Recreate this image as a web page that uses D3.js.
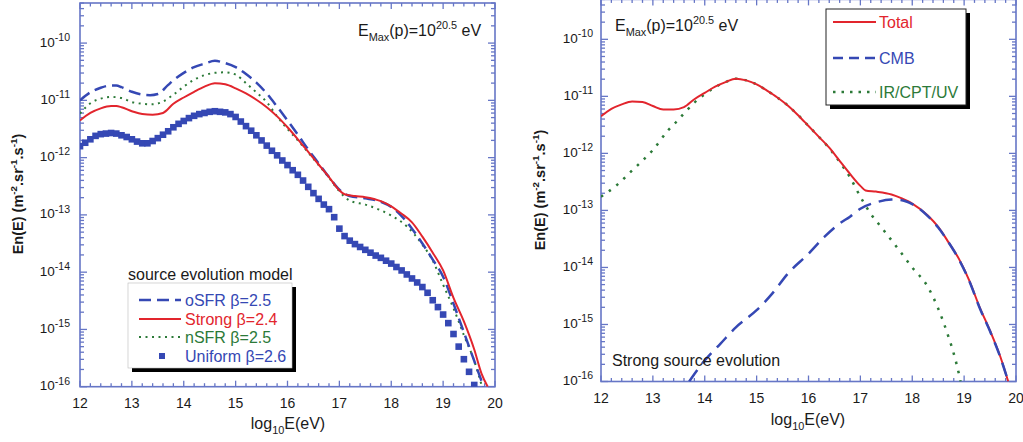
<!DOCTYPE html>
<html><head><meta charset="utf-8">
<script src="https://cdn.jsdelivr.net/npm/d3@7"></script>
<style>body{margin:0;background:#fff;} svg{display:block;font-family:"Liberation Sans",Arial,Helvetica,sans-serif;}</style>
</head><body><svg id="c" width="1023" height="442"></svg>
<script>
// ---------- tick labels ----------
const xTicks = [12, 13, 14, 15, 16, 17, 18, 19, 20];
const yDecades = [-16, -15, -14, -13, -12, -11, -10];

// ---------- LEFT PANEL : source evolution models (log10 E, log10 flux) ----------
const oSFR_E = [12.0,12.2,12.4,12.6,12.7,12.8,13.0,13.2,13.35,13.5,13.7,13.8,14.0,14.2,14.4,14.6,14.8,15.0,15.2,15.4,15.6,15.8,16.0,16.2,16.4,16.6,16.8,17.0,17.2,17.5,17.8,18.0,18.2,18.4,18.6,18.8,19.0,19.2,19.4,19.6,19.78];
const oSFR_F = [-11.00,-10.86,-10.78,-10.74,-10.74,-10.77,-10.85,-10.90,-10.91,-10.89,-10.73,-10.65,-10.52,-10.42,-10.36,-10.31,-10.35,-10.42,-10.54,-10.69,-10.88,-11.11,-11.35,-11.60,-11.86,-12.10,-12.34,-12.56,-12.67,-12.71,-12.77,-12.86,-13.02,-13.24,-13.50,-13.78,-14.08,-14.55,-15.05,-15.55,-16.0];

const strong_E = [12.0,12.2,12.4,12.6,12.7,12.8,13.0,13.2,13.4,13.6,13.8,14.0,14.2,14.4,14.6,14.8,15.0,15.2,15.4,15.6,15.8,16.0,16.2,16.4,16.6,16.8,17.0,17.1,17.3,17.5,17.8,18.0,18.2,18.4,18.6,18.8,19.0,19.2,19.4,19.6,19.74,19.86];
const strong_F = [-11.35,-11.22,-11.14,-11.10,-11.10,-11.12,-11.19,-11.24,-11.25,-11.22,-11.06,-10.95,-10.85,-10.76,-10.70,-10.72,-10.79,-10.88,-10.99,-11.12,-11.28,-11.47,-11.68,-11.90,-12.12,-12.34,-12.57,-12.64,-12.67,-12.69,-12.76,-12.85,-12.98,-13.13,-13.38,-13.66,-13.97,-14.45,-14.86,-15.35,-15.77,-16.0];

const nSFR_E = [12.0,12.2,12.4,12.6,12.8,13.0,13.2,13.4,13.6,13.8,14.0,14.2,14.4,14.6,14.8,15.0,15.2,15.4,15.6,15.8,16.0,16.2,16.4,16.6,16.8,17.0,17.2,17.5,17.8,18.0,18.3,18.6,18.8,19.0,19.2,19.4,19.6,19.75];
const nSFR_F = [-11.23,-11.05,-10.97,-10.94,-10.96,-11.03,-11.06,-11.07,-11.02,-10.90,-10.76,-10.64,-10.56,-10.52,-10.51,-10.55,-10.70,-10.86,-11.03,-11.28,-11.50,-11.70,-11.91,-12.13,-12.35,-12.59,-12.75,-12.82,-12.92,-13.01,-13.20,-13.52,-13.80,-14.22,-14.63,-15.10,-15.55,-16.0];

const uniform_E = [12.0,12.1,12.2,12.3,12.4,12.5,12.6,12.7,12.8,12.9,13.0,13.1,13.2,13.3,13.4,13.5,13.6,13.7,13.8,13.9,14.0,14.1,14.2,14.3,14.4,14.5,14.6,14.7,14.8,14.9,15.0,15.1,15.2,15.3,15.4,15.5,15.6,15.7,15.8,15.9,16.0,16.1,16.2,16.3,16.4,16.5,16.6,16.7,16.8,16.9,17.0,17.1,17.2,17.3,17.4,17.5,17.6,17.7,17.8,17.9,18.0,18.1,18.2,18.3,18.4,18.5,18.6,18.7,18.8,18.9,19.0,19.1,19.2,19.3,19.4,19.5,19.6];
const uniform_F = [-11.80,-11.74,-11.68,-11.62,-11.59,-11.58,-11.57,-11.58,-11.61,-11.64,-11.68,-11.72,-11.75,-11.75,-11.71,-11.66,-11.60,-11.54,-11.47,-11.41,-11.36,-11.31,-11.27,-11.24,-11.22,-11.20,-11.19,-11.20,-11.21,-11.24,-11.29,-11.37,-11.45,-11.53,-11.61,-11.70,-11.79,-11.88,-11.96,-12.05,-12.13,-12.22,-12.30,-12.40,-12.51,-12.62,-12.72,-12.82,-12.90,-13.04,-13.24,-13.37,-13.45,-13.51,-13.56,-13.61,-13.66,-13.71,-13.75,-13.80,-13.85,-13.91,-13.97,-14.04,-14.11,-14.18,-14.26,-14.36,-14.49,-14.61,-14.74,-14.89,-15.08,-15.30,-15.52,-15.74,-15.97];

// ---------- RIGHT PANEL : strong source evolution components ----------
const total_E = [12.0,12.2,12.4,12.6,12.8,13.0,13.2,13.4,13.6,13.8,14.0,14.2,14.4,14.6,14.8,15.0,15.2,15.4,15.6,15.8,16.0,16.2,16.4,16.6,16.8,17.0,17.1,17.3,17.6,17.8,18.0,18.3,18.5,18.7,18.9,19.1,19.3,19.5,19.7,19.85];
const total_F = [-11.35,-11.22,-11.14,-11.09,-11.10,-11.17,-11.23,-11.23,-11.19,-11.05,-10.94,-10.83,-10.75,-10.69,-10.72,-10.79,-10.90,-11.02,-11.16,-11.33,-11.52,-11.71,-11.90,-12.13,-12.36,-12.57,-12.65,-12.67,-12.72,-12.79,-12.88,-13.09,-13.29,-13.56,-13.85,-14.23,-14.70,-15.11,-15.57,-16.0];

const cmb_E = [13.7,14.0,14.3,14.6,15.0,15.3,15.6,16.0,16.3,16.6,16.8,17.0,17.3,17.6,17.8,18.0,18.3,18.5,18.7,18.9,19.1,19.3,19.5,19.7,19.85];
const cmb_F = [-16.0,-15.63,-15.34,-15.05,-14.75,-14.46,-14.11,-13.76,-13.47,-13.23,-13.11,-12.97,-12.86,-12.81,-12.82,-12.89,-13.10,-13.30,-13.56,-13.86,-14.24,-14.71,-15.12,-15.58,-16.0];

const ir_E = [12.0,12.3,12.6,13.0,13.3,13.45,13.6,13.8,14.0,14.2,14.4,14.6,14.8,15.0,15.2,15.4,15.6,15.8,16.0,16.2,16.4,16.6,16.8,17.0,17.2,17.4,17.7,18.0,18.3,18.5,18.7,18.8,18.9,18.93];
const ir_F = [-12.76,-12.56,-12.30,-11.94,-11.59,-11.45,-11.30,-11.11,-10.96,-10.84,-10.75,-10.69,-10.72,-10.79,-10.90,-11.02,-11.16,-11.33,-11.52,-11.71,-11.91,-12.15,-12.42,-12.76,-13.06,-13.29,-13.64,-14.00,-14.34,-14.72,-15.22,-15.51,-15.87,-16.0];

// ---------- styles ----------
const BLUE = "#3548b4", RED = "#e2252d", GREEN = "#2c7a38", FRAME = "#6676c6", TXT = "#1a1a1a";

const svg = d3.select("#c");
svg.append("rect").attr("width",1023).attr("height",442).attr("fill","#fff");

function richText(g, x, y, parts, size, opts = {}) {
  const t = g.append("text").attr("x", x).attr("y", y).attr("font-size", size)
    .attr("fill", opts.fill || TXT).attr("text-anchor", opts.anchor || "start");
  if (opts.weight) t.attr("font-weight", opts.weight);
  if (opts.transform) t.attr("transform", opts.transform);
  const ratio = opts.ratio || 0.68;
  let cur = 0;
  parts.forEach(([s, type]) => {
    const off = type === "sup" ? -size * 0.42 : type === "sub" ? size * 0.32 : 0;
    t.append("tspan").attr("dy", off - cur).attr("font-size", type === "n" ? size : size * ratio).text(s);
    cur = off;
  });
  return t;
}

function toPts(E, F) { return E.map((e, i) => ({ e, f: Math.pow(10, F[i]) })); }

function panel(cfg) {
  const x = d3.scaleLinear().domain([12, 20]).range([cfg.x0, cfg.x1]);
  const y = d3.scaleLog().domain([1e-16, Math.pow(10, -9.3)]).range([cfg.yb, cfg.yt]);
  const g = svg.append("g");
  const clipId = "clip" + cfg.id;
  g.append("clipPath").attr("id", clipId).append("rect")
    .attr("x", cfg.x0).attr("y", cfg.yt).attr("width", cfg.x1 - cfg.x0).attr("height", cfg.yb - cfg.yt);

  // ticks
  const tk = g.append("g").attr("stroke", FRAME).attr("stroke-width", 1.3);
  for (let v = 12; v <= 20.001; v += 0.2) {
    const major = Math.abs(v - Math.round(v)) < 1e-6;
    const L = major ? 6 : 3.5;
    const xx = x(v);
    tk.append("line").attr("x1", xx).attr("x2", xx).attr("y1", cfg.yb).attr("y2", cfg.yb - L);
    tk.append("line").attr("x1", xx).attr("x2", xx).attr("y1", cfg.yt).attr("y2", cfg.yt + L);
  }
  for (let d = -16; d <= -10; d++) {
    for (let m = 1; m <= 9; m++) {
      const val = m * Math.pow(10, d);
      if (val > y.domain()[1]) continue;
      const L = m === 1 ? 7 : 4;
      const yy = y(val);
      tk.append("line").attr("x1", cfg.x0).attr("x2", cfg.x0 + L).attr("y1", yy).attr("y2", yy);
      tk.append("line").attr("x1", cfg.x1).attr("x2", cfg.x1 - L).attr("y1", yy).attr("y2", yy);
    }
  }
  g.append("rect").attr("x", cfg.x0).attr("y", cfg.yt).attr("width", cfg.x1 - cfg.x0).attr("height", cfg.yb - cfg.yt)
    .attr("fill", "none").attr("stroke", FRAME).attr("stroke-width", 1.6);

  // tick labels
  xTicks.forEach(v => {
    g.append("text").attr("x", x(v)).attr("y", cfg.xTickY).attr("text-anchor", "middle")
      .attr("font-size", 14).attr("fill", TXT).text(v);
  });
  yDecades.forEach(d => {
    richText(g, cfg.x0 - cfg.yGap, y(Math.pow(10, d)) + 3.5, [["10", "n"], ["-" + Math.abs(d), "sup"]], 13.5, { anchor: "end", ratio: 0.78 });
  });

  // axis titles
  richText(g, cfg.xTitleX, cfg.xTitleY, [["log", "n"], ["10", "sub"], ["E(eV)", "n"]], 16, { anchor: "middle" });
  richText(g, 0, 0, [["En(E) (m", "n"], ["-2", "sup"], [".sr", "n"], ["-1", "sup"], [".s", "n"], ["-1", "sup"], [")", "n"]], 14.5,
    { anchor: "middle", weight: "bold", transform: `translate(${cfg.yTitleX},${cfg.yTitleY}) rotate(-90)` });

  // annotation
  richText(g, cfg.annX, cfg.annY, [["E", "n"], ["Max", "sub"], ["(p)=10", "n"], ["20.5", "sup"], [" eV", "n"]], 16);

  const line = d3.line().x(d => x(d.e)).y(d => y(d.f)).curve(d3.curveMonotoneX);
  const plot = g.append("g").attr("clip-path", `url(#${clipId})`);
  return { g, plot, x, y, line };
}

// ================= LEFT =================
const L = panel({ id: "L", x0: 80, x1: 495, yb: 386.7, yt: 3, xTickY: 408, yGap: 10,
  xTitleX: 288, xTitleY: 429, yTitleX: 23, yTitleY: 194, annX: 358, annY: 36 });

L.plot.selectAll("rect.u").data(toPts(uniform_E, uniform_F)).enter().append("rect")
  .attr("x", d => L.x(d.e) - 3.3).attr("y", d => L.y(d.f) - 3.3).attr("width", 6.6).attr("height", 6.6).attr("fill", BLUE);
L.plot.append("path").datum(toPts(nSFR_E, nSFR_F)).attr("d", L.line).attr("fill", "none")
  .attr("stroke", GREEN).attr("stroke-width", 2).attr("stroke-dasharray", "2,4.5");
L.plot.append("path").datum(toPts(oSFR_E, oSFR_F)).attr("d", L.line).attr("fill", "none")
  .attr("stroke", BLUE).attr("stroke-width", 2.5).attr("stroke-dasharray", "12,6");
L.plot.append("path").datum(toPts(strong_E, strong_F)).attr("d", L.line).attr("fill", "none")
  .attr("stroke", RED).attr("stroke-width", 2);

// left legend
const lg = svg.append("g");
lg.append("rect").attr("x", 132).attr("y", 287).attr("width", 164).attr("height", 85).attr("fill", "#000");
lg.append("rect").attr("x", 128).attr("y", 283).attr("width", 164).attr("height", 85).attr("fill", "#fff").attr("stroke", "#bbb").attr("stroke-width", 0.6);
lg.append("text").attr("x", 128).attr("y", 280).attr("font-size", 16).attr("fill", TXT).text("source evolution model");
const legL = [
  { name: "oSFR β=2.5", color: BLUE, dash: "12,6", w: 2.5, y: 300 },
  { name: "Strong β=2.4", color: RED, dash: null, w: 2, y: 319 },
  { name: "nSFR β=2.5", color: GREEN, dash: "2,4.5", w: 2, y: 337 },
  { name: "Uniform β=2.6", color: BLUE, dash: "sq", w: 0, y: 356 }
];
legL.forEach(d => {
  if (d.dash === "sq") {
    lg.append("rect").attr("x", 159).attr("y", d.y - 3).attr("width", 6).attr("height", 6).attr("fill", d.color);
  } else {
    const ln = lg.append("line").attr("x1", 139).attr("x2", 181).attr("y1", d.y).attr("y2", d.y)
      .attr("stroke", d.color).attr("stroke-width", d.w);
    if (d.dash) ln.attr("stroke-dasharray", d.dash);
  }
  lg.append("text").attr("x", 185).attr("y", d.y + 6).attr("font-size", 16).attr("fill", d.color).text(d.name);
});

// ================= RIGHT =================
const R = panel({ id: "R", x0: 601, x1: 1016, yb: 381.5, yt: -0.6, xTickY: 403, yGap: 8,
  xTitleX: 808, xTitleY: 425, yTitleX: 545, yTitleY: 190, annX: 615, annY: 31 });

R.g.append("text").attr("x", 612).attr("y", 366).attr("font-size", 16).attr("fill", TXT).text("Strong source evolution");
R.plot.append("path").datum(toPts(ir_E, ir_F)).attr("d", R.line).attr("fill", "none")
  .attr("stroke", GREEN).attr("stroke-width", 2.5).attr("stroke-dasharray", "2.5,7");
R.plot.append("path").datum(toPts(total_E, total_F)).attr("d", R.line).attr("fill", "none")
  .attr("stroke", RED).attr("stroke-width", 2);
R.plot.append("path").datum(toPts(cmb_E, cmb_F)).attr("d", R.line).attr("fill", "none")
  .attr("stroke", BLUE).attr("stroke-width", 2.5).attr("stroke-dasharray", "14,8");

// right legend
const rg = svg.append("g");
rg.append("rect").attr("x", 830).attr("y", 13).attr("width", 140).attr("height", 96).attr("fill", "#000");
rg.append("rect").attr("x", 826).attr("y", 9).attr("width", 140).attr("height", 96).attr("fill", "#fff").attr("stroke", "#222").attr("stroke-width", 1);
const legR = [
  { name: "Total", color: RED, dash: null, w: 2, y: 22 },
  { name: "CMB", color: BLUE, dash: "10,6", w: 2.5, y: 58 },
  { name: "IR/CPT/UV", color: GREEN, dash: "2.5,6", w: 2.5, y: 92 }
];
legR.forEach(d => {
  const ln = rg.append("line").attr("x1", 833).attr("x2", 876).attr("y1", d.y).attr("y2", d.y)
    .attr("stroke", d.color).attr("stroke-width", d.w);
  if (d.dash) ln.attr("stroke-dasharray", d.dash);
  rg.append("text").attr("x", 879).attr("y", d.y + 6).attr("font-size", 16).attr("fill", d.color).text(d.name);
});
</script></body></html>
